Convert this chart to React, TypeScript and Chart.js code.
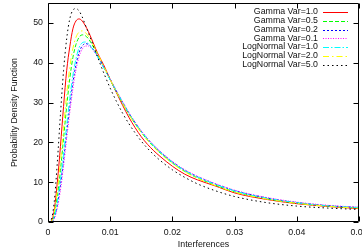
import React, { useEffect, useRef } from "react";
import { Chart, registerables } from "chart.js";

Chart.register(...registerables);

const xValues = [0, 0.0005, 0.001, 0.0015, 0.002, 0.0025, 0.003, 0.0035, 0.004, 0.0045, 0.005, 0.0055, 0.006, 0.0065, 0.007, 0.008, 0.009, 0.010, 0.011, 0.012, 0.013, 0.014, 0.015, 0.016, 0.017, 0.018, 0.020, 0.022, 0.024, 0.027, 0.030, 0.035, 0.040, 0.045, 0.050];

const gammaVar10 = [0, 0.2, 3, 10, 19, 29, 38, 44, 48.5, 50.5, 51, 50.5, 49.3, 47.8, 46, 42.3, 39.3, 35.8, 32.5, 29.3, 26.3, 23.7, 21.4, 19.5, 17.9, 16.5, 14, 12, 10.6, 9.0, 7.3, 5.7, 4.6, 3.9, 3.35];
const gammaVar05 = [0, 0, 1.8, 6.5, 13, 21, 29, 36, 41.3, 44.6, 46.4, 47, 46.8, 46, 44.8, 41.9, 38.8, 35.7, 32.7, 29.8, 27.1, 24.7, 22.5, 20.6, 18.9, 17.4, 14.8, 12.7, 11.1, 9.2, 7.6, 5.9, 4.75, 4.0, 3.5];
const gammaVar02 = [0, 0, 1, 4.2, 9.2, 15.5, 22.5, 29, 35, 39.5, 42.6, 44.2, 44.8, 44.6, 43.9, 41.6, 38.8, 35.9, 32.9, 30.1, 27.4, 25, 22.8, 20.9, 19.2, 17.7, 15.1, 13, 11.4, 9.5, 7.9, 6.1, 4.9, 4.1, 3.65];
const gammaVar01 = [0, 0, 0.8, 3.5, 8, 14, 21, 27.5, 33.5, 38.2, 41.5, 43.4, 44.2, 44.2, 43.6, 41.5, 38.8, 35.9, 33, 30.2, 27.5, 25.1, 22.9, 21, 19.3, 17.8, 15.2, 13.1, 11.5, 9.6, 8.0, 6.2, 5.0, 4.2, 3.7];
const logNormalVar10 = [0, 0, 1.3, 5, 10.5, 17, 24.2, 31, 36.8, 41, 43.8, 45, 45.2, 44.8, 43.8, 41.4, 38.6, 35.7, 32.8, 30, 27.3, 24.9, 22.7, 20.8, 19.1, 17.6, 15, 12.9, 11.3, 9.4, 7.8, 6.0, 4.85, 4.05, 3.6];
const logNormalVar20 = [0, 0.1, 2.3, 7.8, 15, 23.5, 32, 38.8, 43.6, 46.4, 47.7, 48, 47.6, 46.6, 45.3, 42.2, 39, 35.8, 32.7, 29.8, 27.0, 24.6, 22.4, 20.5, 18.8, 17.3, 14.7, 12.6, 11.0, 9.1, 7.5, 5.8, 4.7, 3.95, 3.45];
const logNormalVar50 = [0, 0.5, 5, 15, 27, 38, 46, 51, 53.2, 53.6, 53, 51.5, 49.5, 47.5, 45.5, 41.3, 37.3, 33.6, 30.3, 27.3, 24.7, 22.4, 20.3, 18.5, 16.9, 15.5, 13.1, 11.2, 9.6, 7.8, 6.4, 4.9, 4.0, 3.5, 3.15];

const seriesLabels = ["Gamma Var=1.0", "Gamma Var=0.5", "Gamma Var=0.2", "Gamma Var=0.1", "LogNormal Var=1.0", "LogNormal Var=2.0", "LogNormal Var=5.0"];
const seriesValues = [gammaVar10, gammaVar05, gammaVar02, gammaVar01, logNormalVar10, logNormalVar20, logNormalVar50];
const seriesColors = ["#ff0000", "#00ff00", "#0000ff", "#ff00ff", "#00ffff", "#ffff00", "#000000"];
const seriesDashes: number[][] = [[], [4, 2], [2, 2], [1, 1.5], [6, 2, 1.5, 2], [6, 3, 1.5, 3], [1.5, 3]];

const xTicks = [0, 0.01, 0.02, 0.03, 0.04, 0.05];
const xTickLabels = ["0", "0.01", "0.02", "0.03", "0.04", "0.05"];
const yTicks = [0, 10, 20, 30, 40, 50];
const yTickLabels = ["0", "10", "20", "30", "40", "50"];
const xTitle = "Interferences";
const yTitle = "Probability Density Function";

const FONT = "8.8px 'Liberation Sans', Arial, sans-serif";

const framePlugin = {
  id: "gnuframe",
  afterDraw(chart: any) {
    const { ctx, chartArea: a, scales } = chart;
    const sx = scales.x;
    const sy = scales.y;
    const L = Math.round(a.left) + 0.5;
    const R = Math.round(a.right) - 0.5;
    const T = Math.round(a.top) + 0.5;
    const B = Math.round(a.bottom) - 0.5;
    ctx.save();
    ctx.strokeStyle = "#000";
    ctx.lineWidth = 1;
    ctx.setLineDash([]);
    ctx.beginPath();
    ctx.rect(L, T, R - L, B - T);
    ctx.stroke();
    const tl = 5;
    ctx.beginPath();
    xTicks.forEach((v) => {
      const px = Math.round(sx.getPixelForValue(v)) + 0.5;
      ctx.moveTo(px, B);
      ctx.lineTo(px, B - tl);
      ctx.moveTo(px, T);
      ctx.lineTo(px, T + tl);
    });
    yTicks.forEach((v) => {
      const py = Math.round(sy.getPixelForValue(v)) + 0.5;
      ctx.moveTo(L, py);
      ctx.lineTo(L + tl, py);
      ctx.moveTo(R, py);
      ctx.lineTo(R - tl, py);
    });
    ctx.stroke();

    ctx.fillStyle = "#111";
    ctx.font = FONT;
    ctx.textAlign = "center";
    ctx.textBaseline = "middle";
    xTicks.forEach((v, i) => {
      ctx.fillText(xTickLabels[i], sx.getPixelForValue(v), 233);
    });
    ctx.textAlign = "right";
    yTicks.forEach((v, i) => {
      ctx.fillText(yTickLabels[i], 43, sy.getPixelForValue(v));
    });
    ctx.textAlign = "center";
    ctx.fillText(xTitle, (a.left + a.right) / 2, 245);
    ctx.save();
    ctx.translate(15, (a.top + a.bottom) / 2);
    ctx.rotate(-Math.PI / 2);
    ctx.fillText(yTitle, 0, 0);
    ctx.restore();

    // legend
    ctx.textAlign = "right";
    seriesLabels.forEach((lab, i) => {
      const y = 12 + i * 8.75;
      ctx.fillStyle = "#111";
      ctx.fillText(lab, 318, y);
      ctx.strokeStyle = seriesColors[i];
      ctx.setLineDash(seriesDashes[i]);
      ctx.beginPath();
      ctx.moveTo(323, Math.round(y) + 0.5);
      ctx.lineTo(348, Math.round(y) + 0.5);
      ctx.stroke();
    });
    ctx.restore();
  },
};

export default function App() {
  const ref = useRef<HTMLCanvasElement | null>(null);
  useEffect(() => {
    if (!ref.current) return;
    const datasets = seriesLabels.map((label, i) => ({
      label,
      data: xValues.map((x, j) => ({ x, y: seriesValues[i][j] })),
      borderColor: seriesColors[i],
      backgroundColor: seriesColors[i],
      borderDash: seriesDashes[i],
      borderWidth: 1,
      pointRadius: 0,
      fill: false,
      cubicInterpolationMode: "monotone" as const,
      order: seriesLabels.length - 1 - i,
    }));
    const chart = new Chart(ref.current, {
      type: "line",
      data: { datasets },
      options: {
        animation: false,
        responsive: false,
        events: [],
        layout: { padding: { left: 48, right: 3, top: 3, bottom: 30 } },
        plugins: { legend: { display: false }, tooltip: { enabled: false } },
        scales: {
          x: { type: "linear", min: 0, max: 0.05, display: false },
          y: { type: "linear", min: 0, max: 55, display: false },
        },
      },
      plugins: [framePlugin],
    });
    return () => chart.destroy();
  }, []);
  return (
    <div style={{ position: "fixed", left: 0, top: 0, width: 362, height: 252, background: "#fff" }}>
      <canvas ref={ref} width={362} height={252} style={{ display: "block" }} />
    </div>
  );
}
